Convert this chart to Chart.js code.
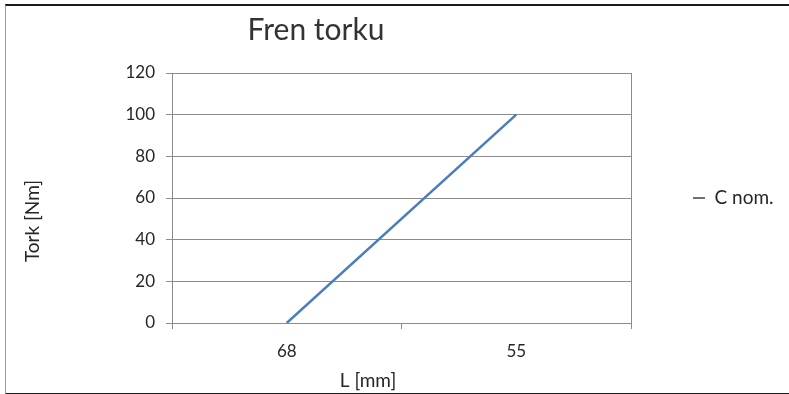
<!DOCTYPE html>
<html>
<head>
<meta charset="utf-8">
<title>Fren torku</title>
<script src="https://cdn.jsdelivr.net/npm/chart.js@4/dist/chart.umd.min.js"></script>
<style>
  html, body { margin: 0; padding: 0; background: #fff; }
  #wrap { position: relative; width: 789px; height: 394px; overflow: hidden; }
  #frame {
    position: absolute; left: 5px; top: 4px; width: 820px; height: 387px;
    border-top: 2px solid #1a1a1a; border-bottom: 2px solid #1a1a1a;
    border-left: 1px solid #9a9a9a; pointer-events: none;
  }
</style>
</head>
<body>
<div id="wrap">
  <canvas id="chart" width="789" height="394"></canvas>
  <div id="frame"></div>
</div>
<script>
// Brake torque against lever length
const lengthLabels = ['68', '55'];          // L [mm]
const torqueNominal = [0, 100];             // C nom. [Nm]
const seriesName = 'C nom.';
const chartTitle = 'Fren torku';
const xAxisTitle = 'L [mm]';
const yAxisTitle = 'Tork [Nm]';

const FONT = 'Lato, "Open Sans", sans-serif';
const TEXT = '#262626';
const GRID = '#8c8c8c';
const PLOT_RIGHT = 631;   // right edge of the plot frame

// Titles placed the way the spreadsheet lays them out around the plot area
const sheetTitles = {
  id: 'sheetTitles',
  afterDraw(chart) {
    const { ctx, chartArea: a } = chart;
    ctx.save();
    ctx.fillStyle = '#333';
    ctx.textAlign = 'center';
    ctx.textBaseline = 'alphabetic';
    ctx.font = '30px ' + FONT;
    ctx.fillText(chartTitle, a.left + 144, a.top - 33);

    ctx.fillStyle = TEXT;
    ctx.font = '19px ' + FONT;
    ctx.textBaseline = 'middle';
    ctx.fillText(xAxisTitle, a.left + 196, a.bottom + 58);

    ctx.translate(a.left - 139, a.top + 148);
    ctx.rotate(-Math.PI / 2);
    ctx.fillText(yAxisTitle, 0, 0);
    ctx.restore();
  }
};

const chart = new Chart(document.getElementById('chart'), {
  type: 'line',
  data: {
    labels: lengthLabels,
    datasets: [{
      label: seriesName,
      data: torqueNominal,
      borderColor: '#4a7ebb',
      backgroundColor: '#4a7ebb',
      borderWidth: 2.5,
      pointRadius: 0,
      tension: 0,
      fill: false
    }]
  },
  options: {
    responsive: false,
    animation: false,
    layout: { padding: { top: 73, left: 0, right: 0, bottom: 0 } },
    plugins: {
      title: { display: false },
      tooltip: { enabled: false },
      legend: {
        display: true,
        position: 'right',
        align: 'center',
        fullSize: false,
        maxWidth: 106,
        labels: {
          padding: 10,
          boxWidth: 12,
          boxHeight: 1.5,
          color: TEXT,
          font: { family: FONT, size: 19 },
          generateLabels(chart) {
            return chart.data.datasets.map((ds, i) => ({
              text: ds.label,
              fillStyle: '#404040',
              strokeStyle: '#404040',
              lineWidth: 0,
              fontColor: TEXT,
              datasetIndex: i,
              hidden: false
            }));
          }
        }
      }
    },
    scales: {
      x: {
        type: 'category',
        offset: true,
        afterFit(scale) { scale.height = 71; },
        grid: {
          offset: true,
          drawOnChartArea: false,
          drawTicks: true,
          tickLength: 6,
          color: GRID
        },
        border: { display: true, color: GRID, width: 1 },
        ticks: {
          padding: 12,
          color: TEXT,
          font: { family: FONT, size: 17 }
        }
      },
      y: {
        min: 0,
        max: 120,
        afterFit(scale) { scale.width = 172; },
        ticks: {
          stepSize: 20,
          padding: 11,
          color: TEXT,
          font: { family: FONT, size: 17 }
        },
        grid: {
          color: GRID,
          drawTicks: true,
          tickLength: 6
        },
        border: { display: true, color: GRID, width: 1 }
      },
      yRight: {
        position: 'right',
        min: 0,
        max: 120,
        // blank gutter between the plot frame and the legend
        afterFit(scale) { scale.width = 52; },
        ticks: { display: false },
        grid: { drawOnChartArea: false, drawTicks: false },
        border: { display: true, color: GRID, width: 1 }
      }
    }
  },
  plugins: [sheetTitles]
});

// Keep the plot frame's right edge where the legend column begins
const shift = chart.chartArea.right - PLOT_RIGHT;
if (shift !== 0) {
  chart.options.layout.padding.right += shift;
  chart.update();
}
</script>
</body>
</html>
